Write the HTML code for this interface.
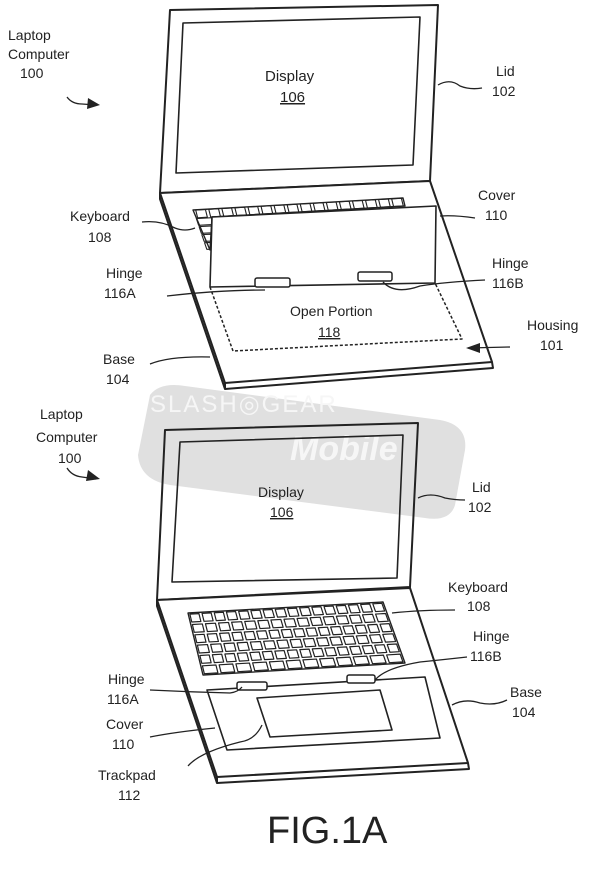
<!DOCTYPE html>
<html><head><meta charset="utf-8"><style>
html,body{margin:0;padding:0;background:#fff;}
svg{display:block;}
text{font-family:"Liberation Sans",sans-serif;font-size:14px;fill:#222;}
</style></head><body>
<svg id="s" width="600" height="870" viewBox="0 0 600 870" xmlns="http://www.w3.org/2000/svg">
<!-- watermark -->
<g>
<path d="M150 395 Q160 382 185 386 L440 420 Q468 425 465 450 L455 505 Q450 522 425 518 L170 485 Q140 480 138 455 Z" fill="#e0e0e0"/>
<text x="150" y="412" style="font-size:24px;fill:#f6f6f6;letter-spacing:2px">SLASH◎GEAR</text>
<text x="290" y="460" style="font-size:34px;font-style:italic;font-weight:bold;fill:#f6f6f6">Mobile</text>
</g>
<g fill="none" stroke="#222" stroke-width="2" stroke-linejoin="round">
<!-- TOP LAPTOP -->
<polygon points="170,10 438,5 430,181 160,193"/>
<polygon points="183,23 420,17 413,165 176,173" stroke-width="1.6"/>
<line x1="160" y1="197" x2="430" y2="185" stroke-width="1.2"/>
<polygon points="160,193 430,181 492,362 225,383" fill="#fff"/>
<polyline points="160,193 160,199 225,389 493,368 492,362"/>
<line x1="225" y1="383" x2="225" y2="389"/>
<polygon points="193,210 403,198 405,206 212,217 210,250" stroke-width="1.4"/>
<g id="tkeys" stroke-width="1.1"></g>
<polygon points="212,217 436,206 435,283 210,287" fill="#fff" stroke-width="1.6"/>
<polyline points="210,287 233,351 462,339 435,283" stroke-dasharray="3,2" stroke-width="1.5"/>
<rect x="255" y="278" width="35" height="9" rx="2" fill="#fff" stroke-width="1.5"/>
<rect x="358" y="272" width="34" height="9" rx="2" fill="#fff" stroke-width="1.5"/>
<!-- BOTTOM LAPTOP -->
<polygon points="165,430 418,423 410,587 157,600"/>
<polygon points="180,442 403,435 397,578 172,582" stroke-width="1.6"/>
<line x1="157" y1="604" x2="410" y2="592" stroke-width="1.2"/>
<polygon points="157,600 410,588 468,763 217,777" fill="#fff"/>
<polyline points="157,600 157,606 217,783 469,769 468,763"/>
<line x1="217" y1="777" x2="217" y2="783"/>
<polygon points="188,613 383,602 405,663 203,675" stroke-width="1.4"/>
<g id="keys" stroke-width="1.2"></g>
<polygon points="207,690 425,677 440,738 227,750" stroke-width="1.6"/>
<polygon points="257,698 380,690 392,730 270,737" stroke-width="1.6"/>
<rect x="237" y="682" width="30" height="8" rx="2" fill="#fff" stroke-width="1.5"/>
<rect x="347" y="675" width="28" height="8" rx="2" fill="#fff" stroke-width="1.5"/>
<!-- leaders -->
<g stroke-width="1.3">
<path d="M67 97 Q72 104 82 104 l14 1"/>
<path d="M438 85 Q450 78 460 86 Q470 90 482 88"/>
<path d="M142 222 Q160 220 175 228 Q185 232 195 228"/>
<path d="M440 216 Q455 215 475 218"/>
<path d="M167 296 Q220 290 265 290"/>
<path d="M383 282 Q395 295 420 286 Q445 282 485 280"/>
<path d="M150 364 Q170 356 210 357"/>
<path d="M468 348 L510 347"/>
<path d="M67 468 Q72 476 82 477 l14 2"/>
<path d="M418 498 Q430 492 445 498 Q455 500 465 500"/>
<path d="M392 613 Q420 610 455 610"/>
<path d="M375 680 Q385 668 420 662 Q440 660 467 657"/>
<path d="M150 690 Q190 692 230 693 Q238 692 242 687"/>
<path d="M150 737 Q175 732 215 728"/>
<path d="M188 766 Q200 752 240 742 Q255 740 262 725"/>
<path d="M452 705 Q465 698 480 703 Q495 706 507 700"/>
</g>
</g>
<polygon points="88,98 100,105 87,109" fill="#222"/>
<polygon points="88,470 100,479 86,481" fill="#222"/>
<polygon points="466,348 480,343 480,353" fill="#222"/>
<!-- labels -->
<text x="8" y="40">Laptop</text><text x="8" y="59">Computer</text><text x="20" y="78">100</text>
<text x="265" y="81" style="font-size:15px">Display</text><text x="280" y="102" style="font-size:15px;text-decoration:underline">106</text>
<text x="496" y="76">Lid</text><text x="492" y="96">102</text>
<text x="70" y="221">Keyboard</text><text x="88" y="242">108</text>
<text x="478" y="200">Cover</text><text x="485" y="220">110</text>
<text x="106" y="278">Hinge</text><text x="104" y="298">116A</text>
<text x="492" y="268">Hinge</text><text x="492" y="288">116B</text>
<text x="290" y="316">Open Portion</text><text x="318" y="337" style="text-decoration:underline">118</text>
<text x="527" y="330">Housing</text><text x="540" y="350">101</text>
<text x="103" y="364">Base</text><text x="106" y="384">104</text>
<text x="40" y="419">Laptop</text><text x="36" y="442">Computer</text><text x="58" y="463">100</text>
<text x="258" y="497">Display</text><text x="270" y="517" style="text-decoration:underline">106</text>
<text x="472" y="492">Lid</text><text x="468" y="512">102</text>
<text x="448" y="592">Keyboard</text><text x="467" y="611">108</text>
<text x="473" y="641">Hinge</text><text x="470" y="661">116B</text>
<text x="108" y="684">Hinge</text><text x="107" y="704">116A</text>
<text x="510" y="697">Base</text><text x="512" y="717">104</text>
<text x="106" y="729">Cover</text><text x="112" y="749">110</text>
<text x="98" y="780">Trackpad</text><text x="118" y="800">112</text>
<text x="267" y="843" style="font-size:38px">FIG.1A</text>
</svg>
<script>
(function(){
var ns='http://www.w3.org/2000/svg';
function quad(g,TL,TR,BR,BL,rows,cols){
function P(u,v){var tx=TL[0]+(TR[0]-TL[0])*u,ty=TL[1]+(TR[1]-TL[1])*u,bx=BL[0]+(BR[0]-BL[0])*u,by=BL[1]+(BR[1]-BL[1])*u;return [tx+(bx-tx)*v,ty+(by-ty)*v];}
for(var r=0;r<rows;r++){var n=cols(r);
for(var c=0;c<n;c++){var u0=c/n+0.008,u1=(c+1)/n-0.008,v0=r/rows+0.02,v1=(r+1)/rows-0.02;
var el=document.createElementNS(ns,'polygon');el.setAttribute('points',[P(u0,v0),P(u1,v0),P(u1,v1),P(u0,v1)].join(' '));g.appendChild(el);}}}
quad(document.getElementById('keys'),[188,613],[383,602],[405,663],[203,675],6,function(r){return r==5?12:(r%2?15:16);});
quad(document.getElementById('tkeys'),[194,210],[403,198],[405,206],[196,218],1,function(){return 16;});
quad(document.getElementById('tkeys'),[196,218],[212,217],[212,250],[207,250],4,function(){return 1;});
})();
</script>
</body></html>
